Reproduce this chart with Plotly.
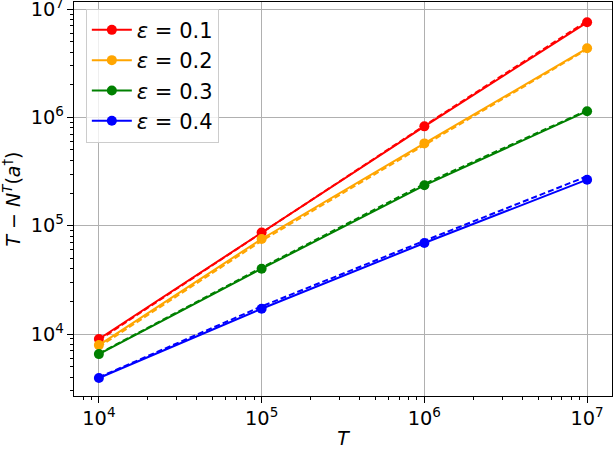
import plotly.graph_objects as go

T = [1e4, 1e5, 1e6, 1e7]
eps_labels = ["0.1", "0.2", "0.3", "0.4"]
colors = ["red", "orange", "green", "blue"]

# measured values (solid with markers)
y_01 = [9000, 86700, 826000, 7.54e6]
y_02 = [7900, 75400, 575000, 4.34e6]
y_03 = [6530, 40100, 236000, 1.14e6]
y_04 = [3930, 17100, 69200, 2.66e5]

# dashed reference curves
d_01 = [8800, 86000, 840000, 7.75e6]
d_02 = [7600, 72500, 555000, 4.25e6]
d_03 = [6600, 41000, 243000, 1.16e6]
d_04 = [3980, 18000, 72500, 2.86e5]

solid = [y_01, y_02, y_03, y_04]
dashed = [d_01, d_02, d_03, d_04]

fig = go.Figure()
for lab, c, ys, yd in zip(eps_labels, colors, solid, dashed):
    fig.add_trace(go.Scatter(x=T, y=ys, mode="lines+markers",
                             line=dict(color=c, width=2),
                             marker=dict(color=c, size=10),
                             name="<i>ε</i> = " + lab))
    fig.add_trace(go.Scatter(x=T, y=yd, mode="lines",
                             line=dict(color=c, width=2, dash="6px,3px"),
                             showlegend=False, hoverinfo="skip"))

axis_common = dict(type="log", dtick=1, exponentformat="power", automargin=False,
                   showline=True, linecolor="black", linewidth=1, mirror=True,
                   ticks="outside", ticklen=6, tickcolor="black",
                   ticklabeloverflow="allow",
                   showgrid=True, gridcolor="#b0b0b0", gridwidth=1,
                   tickfont=dict(family="DejaVu Sans", size=15.5, color="black"),
                   zeroline=False,
                   minor=dict(ticks="outside", ticklen=3, tickcolor="black", showgrid=False))

fig.update_layout(
    width=614, height=449,
    margin=dict(l=74, r=2, t=2, b=53, autoexpand=False),
    plot_bgcolor="white", paper_bgcolor="white",
    font=dict(family="DejaVu Sans", color="black"),
    xaxis=dict(**axis_common, range=[3.847, 7.153],
               title=dict(text="<i>T</i>", font=dict(size=19), standoff=8)),
    yaxis=dict(**axis_common, range=[3.428, 7.065],
               title=dict(text="<i>T</i> − <i>N</i><sup><i>T</i></sup>(<i>a</i><sup>†</sup>)",
                          font=dict(size=19), standoff=6)),
    legend=dict(x=0.022, y=0.983, xanchor="left", yanchor="top",
                bgcolor="rgba(255,255,255,0.8)", bordercolor="#cccccc", borderwidth=1,
                font=dict(family="DejaVu Sans", size=21),
                itemwidth=40, tracegroupgap=0),
    showlegend=True,
)

fig.write_html("out.html", config={"displayModeBar": False},
               post_script="document.body.style.margin='0';document.body.style.overflow='hidden';")
